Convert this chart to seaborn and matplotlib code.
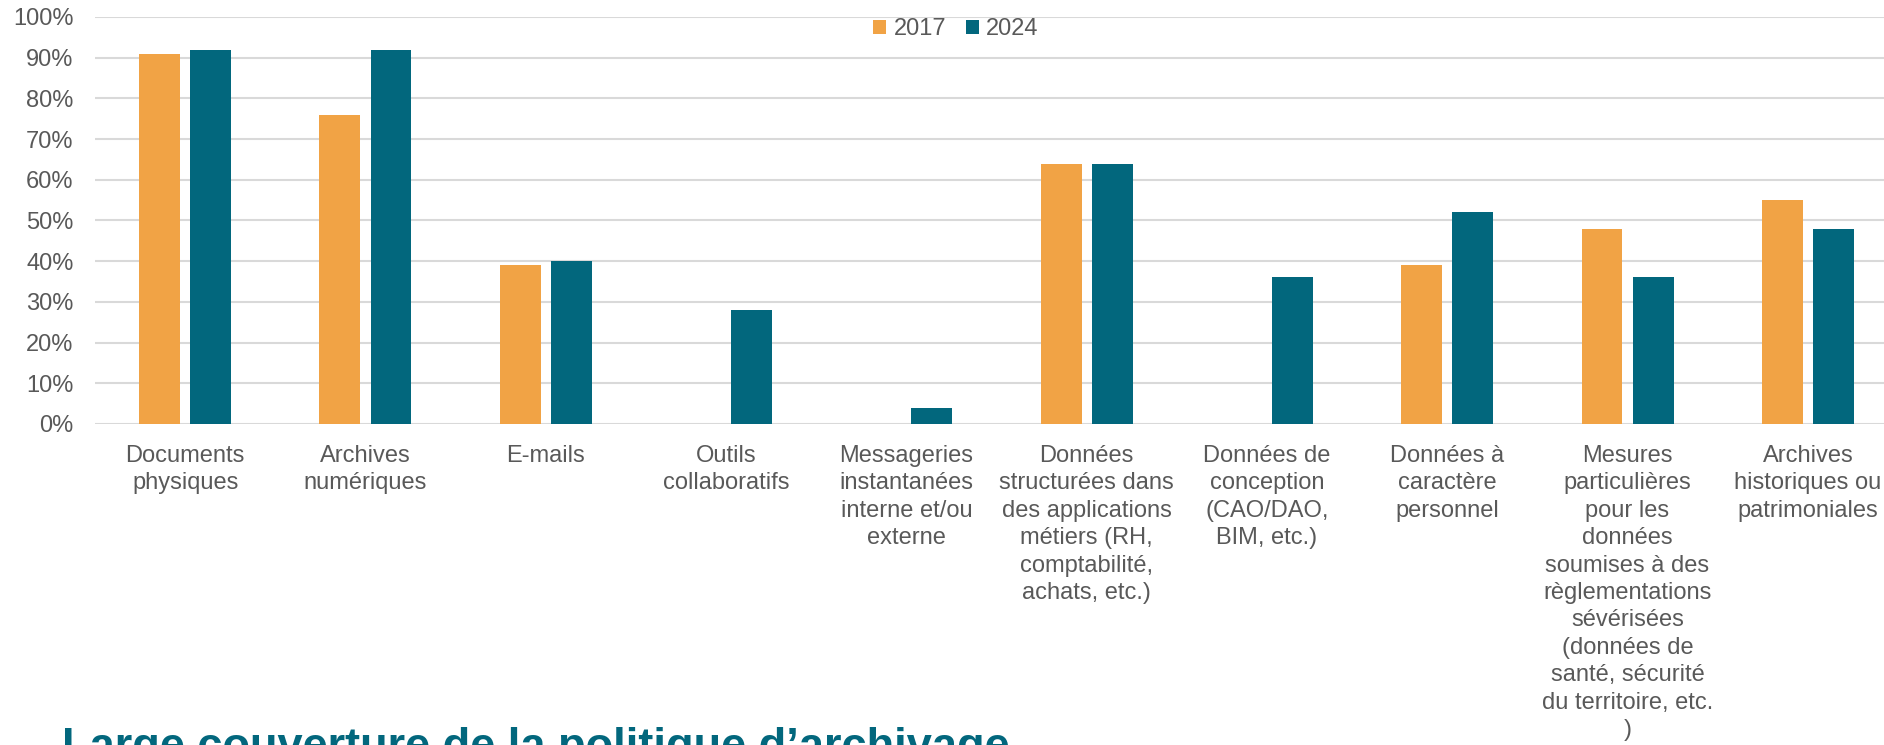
import pandas as pd
import matplotlib
matplotlib.use('Agg')
import matplotlib.pyplot as plt
import seaborn as sns
from matplotlib.patches import Patch

# Data (percent)
categories = [
    "Documents\nphysiques",
    "Archives\nnumériques",
    "E-mails",
    "Outils\ncollaboratifs",
    "Messageries\ninstantanées\ninterne et/ou\nexterne",
    "Données\nstructurées dans\ndes applications\nmétiers (RH,\ncomptabilité,\nachats, etc.)",
    "Données de\nconception\n(CAO/DAO,\nBIM, etc.)",
    "Données à\ncaractère\npersonnel",
    "Mesures\nparticulières\npour les\ndonnées\nsoumises à des\nrèglementations\nsévérisées\n(données de\nsanté, sécurité\ndu territoire, etc.\n)",
    "Archives\nhistoriques ou\npatrimoniales",
]
years = ["2017", "2024"]
values_2017 = [91, 76, 39, 0, 0, 64, 0, 39, 48, 55]
values_2024 = [92, 92, 40, 28, 4, 64, 36, 52, 36, 48]
y_ticks = list(range(0, 101, 10))
title = "Large couverture de la politique d’archivage"

colors = {"2017": "#F1A345", "2024": "#02677D"}
grey = "#595959"

df = pd.DataFrame({
    "categorie": categories * 2,
    "annee": ["2017"] * len(categories) + ["2024"] * len(categories),
    "valeur": values_2017 + values_2024,
})

sns.set_theme(style="white")
plt.rcParams['font.family'] = ['Liberation Sans', 'DejaVu Sans']

W, H = 1884, 745
fig = plt.figure(figsize=(W / 100, H / 100), dpi=100)
ax = fig.add_axes([95 / W, 1 - 424 / H, 1803 / W, 407 / H])

sns.barplot(data=df, x="categorie", y="valeur", hue="annee", hue_order=years,
            palette=colors, saturation=1, width=0.567, gap=0.2, linewidth=0,
            ax=ax, legend=False, errorbar=None)

ax.set_ylim(0, 100)
ax.set_xlim(-0.5, len(categories) - 0.5)
ax.set_yticks(y_ticks)
ax.set_yticklabels([f"{t}%" for t in y_ticks])
ax.yaxis.grid(True, color="#D9D9D9", linewidth=1.5)
ax.set_axisbelow(True)
for s in ax.spines.values():
    s.set_visible(False)
ax.set_xlabel("")
ax.set_ylabel("")
ax.tick_params(axis='y', length=0, pad=15.5, labelsize=17, labelcolor=grey)
ax.tick_params(axis='x', length=0, pad=15, labelsize=17, labelcolor=grey)
for lab in ax.get_xticklabels():
    lab.set_linespacing(1.32)
    lab.set_multialignment('center')

handles = [Patch(facecolor=colors[y], edgecolor='none', label=y) for y in years]
fig.legend(handles=handles, loc='center', bbox_to_anchor=(956 / W, 1 - 29 / H),
           ncol=2, frameon=False, fontsize=17, labelcolor=grey,
           handlelength=0.55, handleheight=0.55, handletextpad=0.3,
           columnspacing=0.85, borderpad=0)

fig.text(62 / W, 1 - 759 / H, title, color="#02677D", fontsize=32.5,
         fontweight='bold', ha='left', va='baseline')

fig.savefig("out.png", dpi=100)
